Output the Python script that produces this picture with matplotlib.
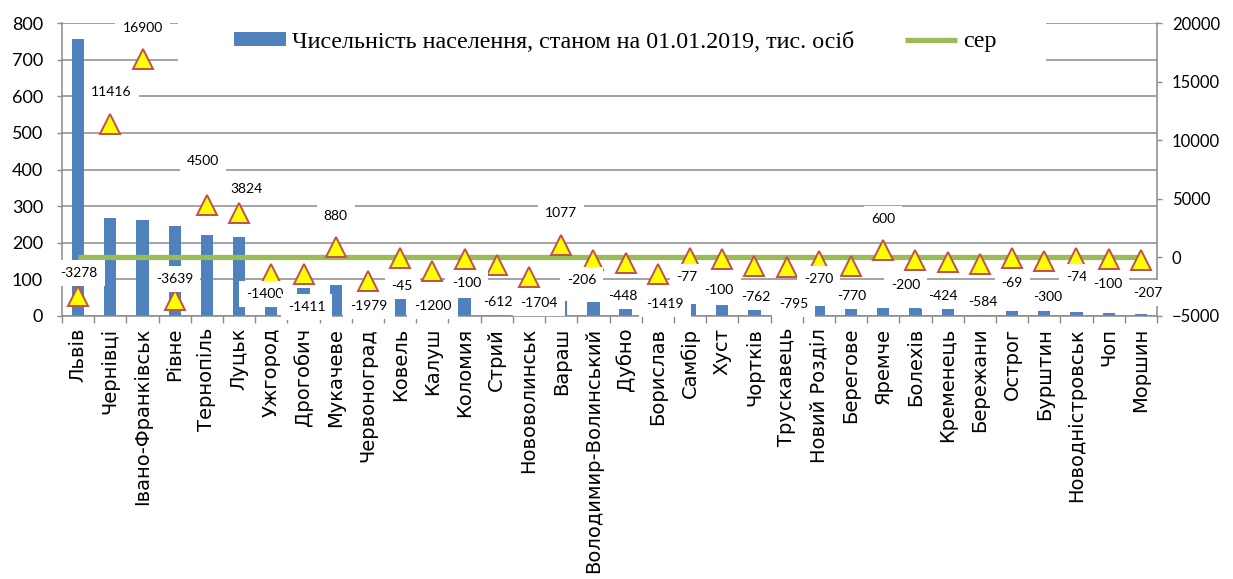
import numpy as np
import matplotlib
matplotlib.use("Agg")
import matplotlib.pyplot as plt
from matplotlib.patches import Rectangle

# Data
cities = ['Львів', 'Чернівці', 'Івано-Франківськ', 'Рівне', 'Тернопіль', 'Луцьк',
          'Ужгород', 'Дрогобич', 'Мукачеве', 'Червоноград', 'Ковель', 'Калуш',
          'Коломия', 'Стрий', 'Нововолинськ', 'Вараш', 'Володимир-Волинський',
          'Дубно', 'Борислав', 'Самбір', 'Хуст', 'Чортків', 'Трускавець',
          'Новий Розділ', 'Берегове', 'Яремче', 'Болехів', 'Кременець', 'Бережани',
          'Острог', 'Бурштин', 'Новодністровськ', 'Чоп', 'Моршин']
population = [756, 267, 261, 246, 221, 217, 115, 76, 86, 48, 46, 45, 50, 44, 43,
              42, 39, 36, 33, 33, 30, 28, 28, 27, 23, 23, 22, 22, 17, 15, 15, 10, 7, 6]
migration = [-3278, 11416, 16900, -3639, 4500, 3824, -1400, -1411, 880, -1979,
             -45, -1200, -100, -612, -1704, 1077, -206, -448, -1419, -77, -100,
             -762, -795, -270, -770, 600, -200, -424, -584, -69, -300, -74, -100, -207]
avg_level = 0
bar_label = 'Чисельність населення, станом на 01.01.2019, тис. осіб'
avg_label = 'сер'

# label offsets from each triangle, in pixels (layout only)
label_dx = [1, 1, 0, 0, -4, 7, -7, 3, 0, 1, 2, 0, 2, 1, 10, 0, -12, -3, 7, -3,
            -3, 1, 7, 0, 1, 0, -10, -5, 3, 0, 3, 0, -1, 7]
label_dy = [23, 32, 31, 21, 44, 24, -20, -33, 31, -25, -28, -35, -24, -37, -26, 32,
            -20, -33, -30, -19, -31, -31, -37, -18, -30, 31, -25, -34, -38, -25,
            -36, -19, -25, -33]

W, H = 1233, 579
GRID = '#8a8a8a'
fig = plt.figure(figsize=(W / 100, H / 100), dpi=100)
ax1 = fig.add_axes([62 / W, 1 - 316 / H, 1095 / W, 293 / H])
ax2 = ax1.twinx()

x = np.arange(len(cities))
bars = ax1.bar(x, population, width=0.38, color='#4F81BD', zorder=2)
ax1.set_xlim(-0.5, len(cities) - 0.5)
ax1.set_ylim(0, 800)
ax1.set_yticks(np.arange(0, 801, 100))
ax1.yaxis.grid(True, color=GRID, lw=1.1)
ax1.set_axisbelow(True)

ax1.set_xticks(x)
ax1.set_xticklabels(cities, rotation=90, fontsize=14, family='DejaVu Sans')
ax1.set_xticks(np.arange(-0.5, len(cities), 1), minor=True)
ax1.tick_params(axis='x', which='major', length=0, pad=8.5)
ax1.tick_params(axis='x', which='minor', length=5, width=1, color=GRID)
ax1.tick_params(axis='y', length=3.6, width=1, color=GRID, pad=10, labelsize=13)
for lab in ax1.get_yticklabels():
    lab.set_family('Lato')

for s in ['top', 'right']:
    ax1.spines[s].set_visible(False)
for s in ['left', 'bottom']:
    ax1.spines[s].set_color(GRID)
    ax1.spines[s].set_linewidth(1.1)

line, = ax2.plot(x, [avg_level] * len(x), color='#9BBB59', lw=3.8,
                 solid_capstyle='butt', zorder=2)
ax2.plot(x, migration, ls='none', marker='^', ms=14, mfc='#FFFF00',
         mec='#C0504D', mew=1.4, zorder=3)
ax2.set_ylim(-5000, 20000)
ax2.set_yticks(np.arange(-5000, 20001, 5000))
ax2.tick_params(axis='y', length=3.6, width=1, color=GRID, pad=7, labelsize=12)
for lab in ax2.get_yticklabels():
    lab.set_family('Lato')
for s in ['top', 'left', 'bottom']:
    ax2.spines[s].set_visible(False)
ax2.spines['right'].set_color(GRID)
ax2.spines['right'].set_linewidth(1.1)

for i, v in enumerate(migration):
    ax2.annotate(str(v), (i, v), xytext=(label_dx[i], label_dy[i]),
                 textcoords='offset pixels', ha='center', va='center',
                 fontsize=10, family='Lato', zorder=5,
                 bbox=dict(boxstyle='square,pad=0.5', fc='white', ec='none'))

# legend area (white, hides gridlines behind it)
fig.add_artist(Rectangle((178 / W, 1 - 74 / H), 868 / W, 62 / H,
                         transform=fig.transFigure, fc='white', ec='none', zorder=0.5))
fig.legend([bars, line], [bar_label, avg_label], loc='center left',
           bbox_to_anchor=(234 / W, 1 - 42 / H), ncol=2, frameon=False,
           prop={'family': 'Liberation Serif', 'size': 17.3},
           handlelength=2.17, handleheight=0.5, handletextpad=0.25,
           columnspacing=2.1, borderpad=0, borderaxespad=0)

plt.savefig('out.png', dpi=100)
